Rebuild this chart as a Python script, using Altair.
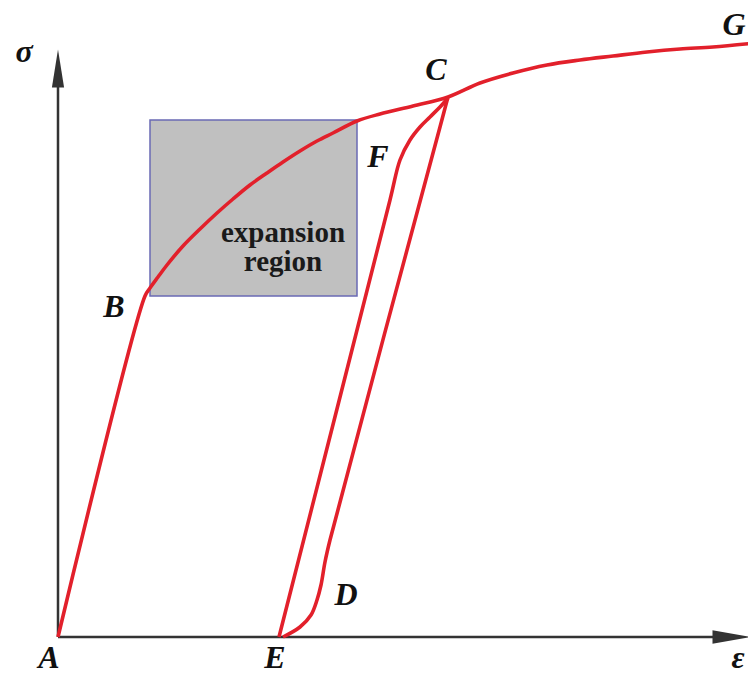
import altair as alt
import pandas as pd

# ---- data (strain eps, stress sigma; arbitrary units) ----
# loading curve A -> B -> C -> G
load_eps = [0.00, 0.87, 0.92, 1.00, 1.09, 1.25, 1.42, 1.59, 1.75, 1.92, 2.09, 2.25,
            2.42, 2.59, 2.75, 2.99, 3.22, 3.55, 3.90, 4.22, 4.55, 4.89, 5.22,
            5.55, 5.89, 6.22, 6.55, 6.98]
load_sig = [0.00, 3.41, 3.49, 3.60, 3.72, 3.91, 4.08, 4.24, 4.38, 4.52, 4.64, 4.75,
            4.86, 4.96, 5.04, 5.16, 5.23, 5.31, 5.40, 5.54, 5.64, 5.72, 5.77,
            5.81, 5.85, 5.88, 5.90, 5.94]
# unloading C -> D -> E
unload_eps = [3.90, 3.86, 3.82, 2.72, 2.67, 2.63, 2.59, 2.53, 2.42, 2.25]
unload_sig = [5.40, 5.25, 5.10, 0.97, 0.75, 0.52, 0.37, 0.22, 0.10, 0.00]
# reloading E -> F -> C
reload_eps = [2.21, 3.32, 3.42, 3.52, 3.62, 3.72, 3.82, 3.90]
reload_sig = [0.00, 4.37, 4.77, 4.97, 5.10, 5.20, 5.30, 5.39]

# expansion region box
box_eps = [0.92, 2.99]
box_sig = [3.41, 5.17]
region_lines = ["expansion", "region"]
region_eps = [2.25, 2.25]
region_sig = [3.95, 3.66]

# point labels
labels = ["σ", "G", "C", "F", "B", "D", "A", "E", "ε"]
label_eps = [-0.34, 6.76, 3.78, 3.20, 0.56, 2.88, -0.09, 2.17, 6.80]
label_sig = [5.75, 6.02, 5.57, 4.70, 3.20, 0.32, -0.31, -0.31, -0.31]

# axes (with arrow heads)
axis_eps0 = [0.0, 0.0]
axis_sig0 = [0.0, 0.0]
axis_eps1 = [0.0, 6.75]
axis_sig1 = [5.6, 0.0]
arrow_eps = [0.0, 6.735]
arrow_sig = [5.685, 0.0]
arrow_shape = ["M0,-1L0.32,1L-0.32,1Z", "M1,0L-1,0.36L-1,-0.36Z"]

# ---- tables ----
rows = []
for name, xs_, ys_ in [("load", load_eps, load_sig),
                       ("unload", unload_eps, unload_sig),
                       ("reload", reload_eps, reload_sig)]:
    for i, (e, s) in enumerate(zip(xs_, ys_)):
        rows.append({"seg": name, "ord": i, "eps": e, "sig": s})
paths = pd.DataFrame(rows)

box = pd.DataFrame({"e0": [box_eps[0]], "e1": [box_eps[1]],
                    "s0": [box_sig[0]], "s1": [box_sig[1]]})
region = pd.DataFrame({"t": region_lines, "eps": region_eps, "sig": region_sig})
lab = pd.DataFrame({"t": labels, "eps": label_eps, "sig": label_sig})
axes = pd.DataFrame({"e0": axis_eps0, "s0": axis_sig0, "e1": axis_eps1, "s1": axis_sig1})
arrows = pd.DataFrame({"eps": arrow_eps, "sig": arrow_sig, "shape": arrow_shape})

xs = alt.Scale(domain=[-0.50, 6.90], nice=False, zero=False)
ys = alt.Scale(domain=[-0.34, 6.29], nice=False, zero=False)

X = lambda f: alt.X(f, type="quantitative", scale=xs, axis=None)
Y = lambda f: alt.Y(f, type="quantitative", scale=ys, axis=None)

box_layer = alt.Chart(box).mark_rect(fill="#c0c0c0", stroke="#6a6ab4", strokeWidth=1.5).encode(
    x=X("e0"), x2="e1", y=Y("s0"), y2="s1")

region_layer = alt.Chart(region).mark_text(
    font="Liberation Serif", fontWeight="bold", fontSize=29, color="#1a1a1a",
    align="center", baseline="alphabetic").encode(x=X("eps"), y=Y("sig"), text="t")

axis_layer = alt.Chart(axes).mark_rule(color="#333333", strokeWidth=2.5).encode(
    x=X("e0"), y=Y("s0"), x2="e1", y2="s1")

arrow_layer = alt.Chart(arrows).mark_point(filled=True, size=1444, opacity=1,
                                           color="#333333").encode(
    x=X("eps"), y=Y("sig"), shape=alt.Shape("shape:N", scale=None, legend=None))

curve_layer = alt.Chart(paths).mark_line(color="#e2202b", strokeWidth=3.6,
                                         interpolate="catmull-rom").encode(
    x=X("eps"), y=Y("sig"), detail="seg:N", order="ord:Q")

label_layer = alt.Chart(lab).mark_text(
    font="Liberation Serif", fontWeight="bold", fontStyle="italic", fontSize=32,
    color="#111111", align="center", baseline="alphabetic").encode(
    x=X("eps"), y=Y("sig"), text="t")

chart = alt.layer(box_layer, region_layer, axis_layer, arrow_layer, curve_layer,
                  label_layer).properties(
    width=740, height=663, padding=0, autosize="none"
).configure_view(stroke=None)

chart.save("out.html", embed_options={"renderer": "svg", "actions": False})
